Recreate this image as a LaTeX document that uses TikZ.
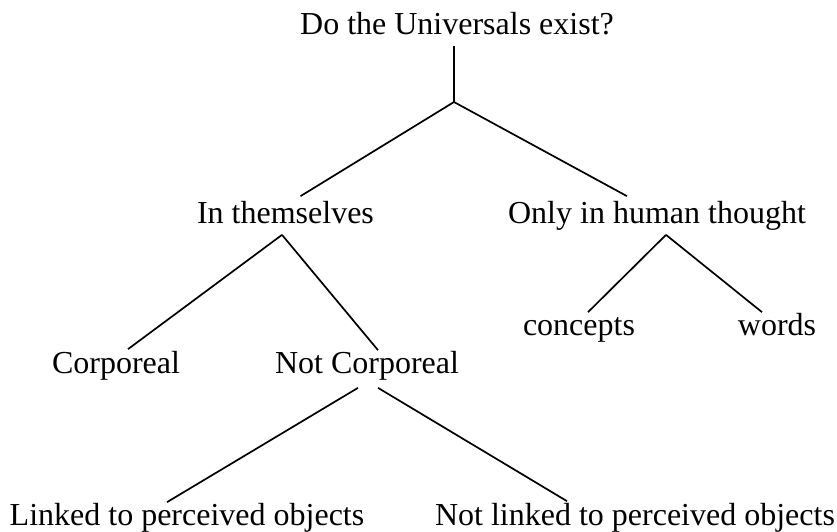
\documentclass[tikz,border=0pt]{standalone}
\usepackage{fontspec}
\setmainfont{Liberation Serif}
\begin{document}
\begin{tikzpicture}[x=1pt, y=-1pt, line width=1.7pt,
  every node/.style={font=\fontsize{32}{38}\selectfont, anchor=base, inner xsep=0pt, inner ysep=4pt, text height=22pt, text depth=7pt}]
  \useasboundingbox (0,0) rectangle (837,531);
  \node (quest) at (457,34) {Do the Universals exist?};
  \coordinate (fork) at (454,102);
  \node (inself) at (285.5,223) {In themselves};
  \node (thought) at (657,223) {Only in human thought};
  \node (corp) at (116,373) {Corporeal};
  \node (notcorp) at (367,373) {Not Corporeal};
  \node (concepts) at (579,335) {concepts};
  \node (words) at (777,335) {words};
  \node (linked) at (187,525) {Linked to perceived objects};
  \node (notlinked) at (635,525) {Not linked to perceived objects};
  \draw ([xshift=-3pt]quest.south) -- (fork);
  \draw (fork) -- ([xshift=15pt]inself.north); \draw (fork) -- ([xshift=-30pt]thought.north);
  \draw ([xshift=-3.5pt]inself.south) -- ([shift={(12,3)}]corp.north);
  \draw ([xshift=-3.5pt]inself.south) -- ([shift={(11,4)}]notcorp.north);
  \draw ([xshift=9pt]thought.south) -- ([shift={(9,4)}]concepts.north);
  \draw ([xshift=9pt]thought.south) -- ([shift={(-15,4)}]words.north);
  \draw ([shift={(-9,3)}]notcorp.south) -- ([shift={(-20,4)}]linked.north);
  \draw ([shift={(11,3)}]notcorp.south) -- ([shift={(-68,3)}]notlinked.north);
\end{tikzpicture}
\end{document}
